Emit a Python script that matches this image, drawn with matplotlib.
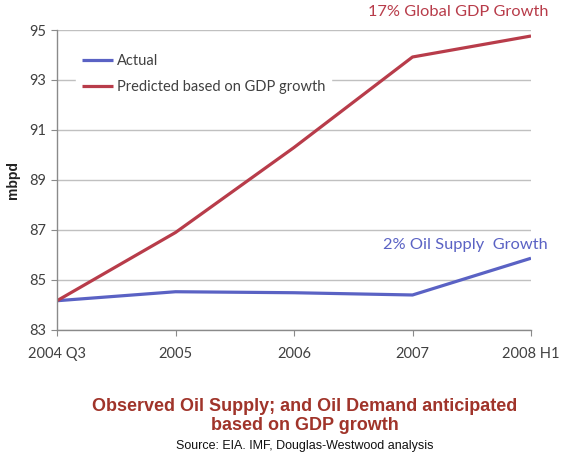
import matplotlib
matplotlib.use("Agg")
import matplotlib.pyplot as plt

categories = ["2004 Q3", "2005", "2006", "2007", "2008 H1"]
actual = [84.17, 84.53, 84.49, 84.40, 85.87]
predicted = [84.17, 86.90, 90.30, 93.92, 94.76]
yticks = [83, 85, 87, 89, 91, 93, 95]

BLUE = "#5a62c4"
RED = "#b83c4a"
TITLE = "#a0342a"
GRID = "#c0c0c0"
AX = "#8a8a8a"
TXT = "#404040"

fig = plt.figure(figsize=(5.7, 4.63), dpi=100)
ax = fig.add_axes([0.1, 0.2873, 0.8316, 0.6479])
x = list(range(len(categories)))
ax.plot(x, actual, color=BLUE, lw=2.3, label="Actual", solid_capstyle="butt")
ax.plot(x, predicted, color=RED, lw=2.3, label="Predicted based on GDP growth", solid_capstyle="butt")

ax.set_xlim(0, len(categories) - 1)
ax.set_ylim(83, 95)
ax.set_yticks(yticks)
ax.set_xticks(x)
ax.set_xticklabels(categories)
ax.yaxis.grid(True, color=GRID, lw=1)
ax.set_axisbelow(True)
for s in ["top", "right"]:
    ax.spines[s].set_visible(False)
for s in ["left", "bottom"]:
    ax.spines[s].set_color(AX)
    ax.spines[s].set_linewidth(1)
ax.tick_params(axis="both", colors=AX, length=4, labelcolor=TXT, labelsize=10.5)
for lab in ax.get_xticklabels() + ax.get_yticklabels():
    lab.set_family("Lato")
ax.tick_params(axis="x", pad=8)
ax.set_ylabel("mbpd", fontsize=10, fontweight="bold", family="Liberation Sans", color="#222222", labelpad=7)

leg = ax.legend(loc="upper left", bbox_to_anchor=(0.025, 0.965), frameon=True, fancybox=False,
                handlelength=2.1, handletextpad=0.3, labelspacing=0.85,
                prop={"family": "Lato", "size": 10.5})
leg.get_frame().set_edgecolor("white")
leg.get_frame().set_facecolor("white")
leg.get_frame().set_alpha(1)
for t in leg.get_texts():
    t.set_color(TXT)

ax.text(1.036, 1.06, "17% Global GDP Growth", transform=ax.transAxes, ha="right", va="center",
        color=RED, fontsize=11.8, family="Lato")
ax.text(1.036, 0.283, "2% Oil Supply  Growth", transform=ax.transAxes, ha="right", va="center",
        color=BLUE, fontsize=11.8, family="Lato")

fig.text(0.535, 0.123, "Observed Oil Supply; and Oil Demand anticipated",
         ha="center", va="center", color=TITLE, fontsize=13, fontweight="bold",
         family="Liberation Sans")
fig.text(0.535, 0.082, "based on GDP growth",
         ha="center", va="center", color=TITLE, fontsize=13, fontweight="bold",
         family="Liberation Sans")
fig.text(0.535, 0.037, "Source: EIA. IMF, Douglas-Westwood analysis", ha="center", va="center",
         color="#111111", fontsize=9, family="Liberation Sans")

fig.savefig("out.png", dpi=100)
